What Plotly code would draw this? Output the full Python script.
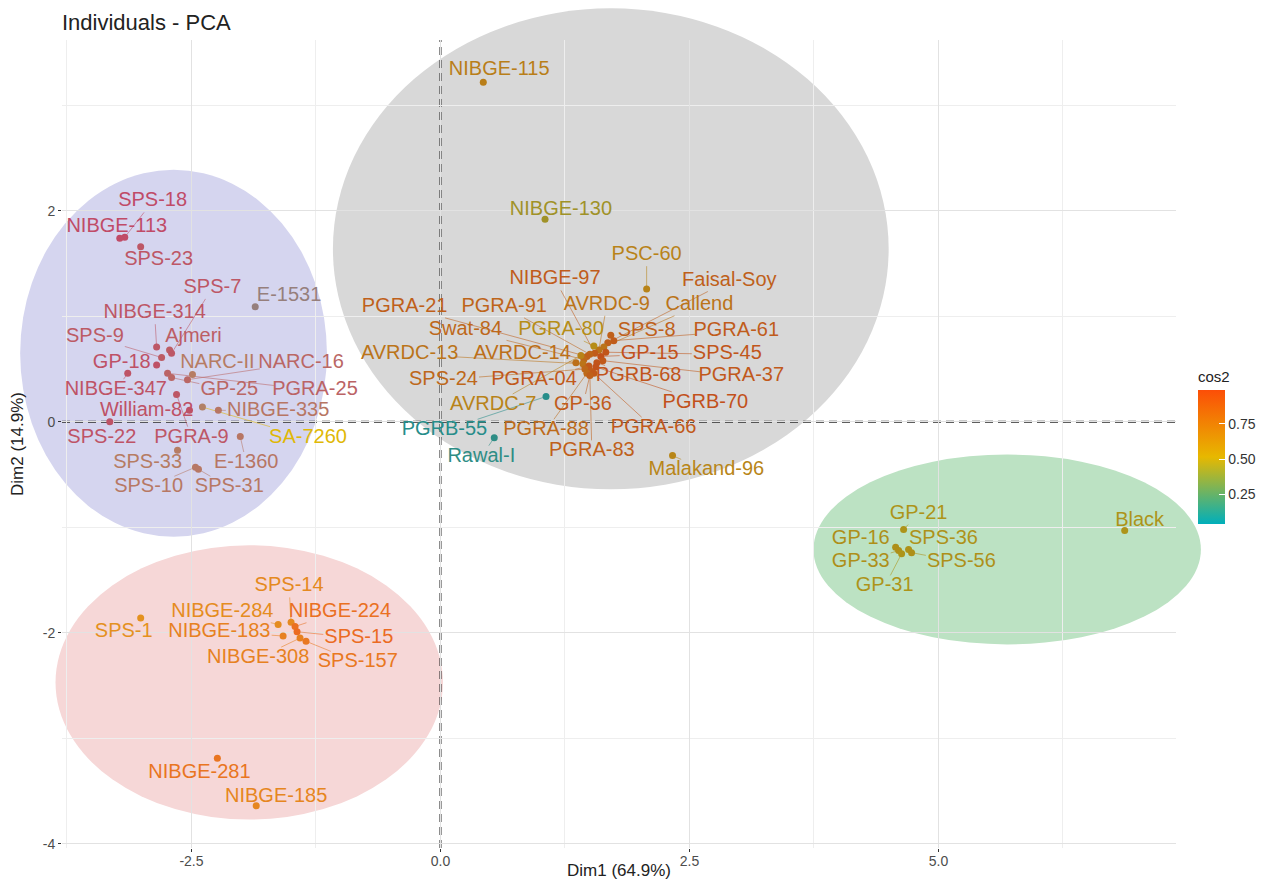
import math
import plotly.graph_objects as go

# ------------------------------------------------------------------ data
left_names = ["SPS-18", "NIBGE-113", "SPS-23", "E-1531", "NIBGE-314", "Ajmeri", "SPS-7", "SPS-9",
              "GP-18", "NIBGE-347", "PGRA-25", "GP-25", "NARC-16", "NARC-II", "PGRA-9", "William-82",
              "SA-7260", "NIBGE-335", "SPS-22", "E-1360", "SPS-33", "SPS-10", "SPS-31"]
left_dim1 = [-3.17, -3.22, -3.01, -1.86, -2.85, -2.72, -2.70, -2.80, -2.85, -3.14, -2.74, -2.70,
             -2.54, -2.49, -2.65, -2.52, -2.39, -2.23, -3.32, -2.01, -2.64, -2.46, -2.43]
left_dim2 = [1.75, 1.74, 1.66, 1.09, 0.71, 0.68, 0.65, 0.61, 0.54, 0.46, 0.46, 0.42,
             0.40, 0.45, 0.26, 0.11, 0.14, 0.11, 0.00, -0.14, -0.27, -0.43, -0.45]
left_cos2 = [0.95, 0.95, 0.85, 0.40, 0.85, 0.80, 0.85, 0.82, 0.90, 0.88, 0.75, 0.72,
             0.72, 0.55, 0.85, 0.90, 0.50, 0.60, 0.88, 0.60, 0.55, 0.58, 0.58]

center_names = ["NIBGE-115", "NIBGE-130", "PSC-60", "Malakand-96", "PGRB-55", "Rawal-I",
                "SPS-8", "PGRA-61", "Faisal-Soy", "Callend", "AVRDC-9", "PGRA-80", "NIBGE-97",
                "SPS-45", "PGRA-91", "PGRA-21", "GP-15", "Swat-84", "AVRDC-7", "PGRA-37",
                "PGRB-68", "AVRDC-13", "AVRDC-14", "PGRB-70", "PGRA-04", "SPS-24", "GP-36",
                "PGRA-88", "PGRA-66", "PGRA-83"]
center_dim1 = [0.43, 1.05, 2.07, 2.33, 1.06, 0.54,
               1.71, 1.74, 1.68, 1.64, 1.59, 1.54, 1.55,
               1.66, 1.50, 1.47, 1.61, 1.44, 1.41, 1.63,
               1.57, 1.43, 1.36, 1.56, 1.49, 1.45, 1.51,
               1.47, 1.54, 1.50]
center_dim2 = [3.22, 1.92, 1.26, -0.32, 0.24, -0.15,
               0.82, 0.77, 0.75, 0.71, 0.68, 0.72, 0.65,
               0.66, 0.64, 0.62, 0.62, 0.59, 0.63, 0.58,
               0.56, 0.55, 0.56, 0.52, 0.53, 0.50, 0.48,
               0.46, 0.46, 0.44]
center_cos2 = [0.65, 0.45, 0.62, 0.60, 0.08, 0.10,
               0.85, 0.88, 0.85, 0.72, 0.72, 0.55, 0.88,
               0.92, 0.82, 0.85, 0.95, 0.80, 0.62, 0.90,
               0.93, 0.72, 0.75, 0.95, 0.90, 0.80, 0.88,
               0.78, 0.90, 0.85]

pink_names = ["SPS-1", "SPS-14", "NIBGE-284", "NIBGE-224", "NIBGE-183", "SPS-15", "NIBGE-308",
              "SPS-157", "NIBGE-281", "NIBGE-185"]
pink_dim1 = [-3.01, -1.50, -1.63, -1.46, -1.58, -1.44, -1.41, -1.35, -2.24, -1.85]
pink_dim2 = [-1.86, -1.90, -1.92, -1.94, -2.03, -1.99, -2.05, -2.08, -3.19, -3.64]
pink_cos2 = [0.65, 0.70, 0.68, 0.85, 0.75, 0.88, 0.75, 0.80, 0.82, 0.72]

green_names = ["GP-21", "GP-16", "SPS-36", "GP-33", "SPS-56", "GP-31", "Black"]
green_dim1 = [4.65, 4.57, 4.70, 4.60, 4.73, 4.63, 6.87]
green_dim2 = [-1.02, -1.19, -1.21, -1.22, -1.24, -1.25, -1.03]
green_cos2 = [0.62, 0.66, 0.64, 0.66, 0.65, 0.62, 0.62]

x_ticks = [-2.5, 0.0, 2.5, 5.0]
y_ticks = [-4, -2, 0, 2]
cbar_ticks = [0.25, 0.50, 0.75]

# ------------------------------------------------------------------ layout helpers
PAGE_PAD = 8                       # default <body> margin of the html page
W, H = 1282 - 2 * PAGE_PAD, 888 - 2 * PAGE_PAD
ML, MT = 62 - PAGE_PAD, 40 - PAGE_PAD
PW, PH = 1116, 808
MR, MB = W - ML - PW, H - MT - PH
XR = [-3.80, 7.385]
YR = [-4.04, 3.62]
PXX = PW / (XR[1] - XR[0])
PXY = PH / (YR[1] - YR[0])
FS = 20
FONT = "Liberation Sans, Arial, sans-serif"
CMIN, CMAX = 0.04, 0.99
SCALE = [(0.0, (0, 175, 187)), (0.5, (231, 184, 0)), (1.0, (252, 78, 7))]

# repelled label positions (data units)
label_pos = {
    "SPS-18": (-2.89, 2.09), "NIBGE-113": (-3.25, 1.85), "SPS-23": (-2.83, 1.53),
    "SPS-7": (-2.29, 1.27), "E-1531": (-1.52, 1.19), "NIBGE-314": (-2.87, 1.03),
    "SPS-9": (-3.47, 0.80), "Ajmeri": (-2.48, 0.80), "GP-18": (-3.20, 0.56),
    "NARC-II": (-2.24, 0.56), "NARC-16": (-1.40, 0.56), "NIBGE-347": (-3.26, 0.30),
    "GP-25": (-2.12, 0.30), "PGRA-25": (-1.26, 0.30), "William-82": (-2.95, 0.10),
    "NIBGE-335": (-1.63, 0.10), "SPS-22": (-3.40, -0.15), "PGRA-9": (-2.50, -0.15),
    "SA-7260": (-1.33, -0.15), "SPS-33": (-2.94, -0.39), "E-1360": (-1.95, -0.39),
    "SPS-10": (-2.93, -0.62), "SPS-31": (-2.12, -0.62),
    "NIBGE-115": (0.59, 3.34), "NIBGE-130": (1.21, 2.01), "PSC-60": (2.07, 1.58),
    "Malakand-96": (2.67, -0.46), "PGRB-55": (0.04, -0.08), "Rawal-I": (0.41, -0.33),
    "NIBGE-97": (1.15, 1.35), "PGRA-21": (-0.36, 1.09), "PGRA-91": (0.64, 1.09),
    "AVRDC-9": (1.67, 1.11), "Callend": (2.60, 1.11), "Faisal-Soy": (2.90, 1.34),
    "Swat-84": (0.25, 0.87), "PGRA-80": (1.21, 0.87), "SPS-8": (2.07, 0.86),
    "PGRA-61": (2.97, 0.86), "AVRDC-13": (-0.31, 0.64), "AVRDC-14": (0.82, 0.64),
    "GP-15": (2.10, 0.64), "SPS-45": (2.88, 0.64), "SPS-24": (0.03, 0.40),
    "PGRA-04": (0.94, 0.40), "PGRB-68": (1.99, 0.43), "PGRA-37": (3.02, 0.43),
    "AVRDC-7": (0.53, 0.16), "GP-36": (1.43, 0.16), "PGRB-70": (2.66, 0.18),
    "PGRA-88": (1.06, -0.08), "PGRA-66": (2.14, -0.06), "PGRA-83": (1.52, -0.28),
    "SPS-1": (-3.18, -1.99), "SPS-14": (-1.52, -1.56), "NIBGE-284": (-2.19, -1.80),
    "NIBGE-224": (-1.01, -1.80), "NIBGE-183": (-2.22, -1.99), "SPS-15": (-0.82, -2.05),
    "NIBGE-308": (-1.83, -2.24), "SPS-157": (-0.83, -2.28), "NIBGE-281": (-2.42, -3.33),
    "NIBGE-185": (-1.65, -3.56),
    "GP-21": (4.80, -0.87), "GP-16": (4.22, -1.11), "SPS-36": (5.05, -1.11),
    "GP-33": (4.22, -1.33), "SPS-56": (5.23, -1.33), "GP-31": (4.46, -1.56),
    "Black": (7.02, -0.94),
}

# cluster ellipses (centre, radii in data units), fill, and the tint they give marks
ellipses = {
    "left":   dict(c=(-2.68, 0.65), r=(1.54, 1.74), fill="#D5D5EF", tint=(120, 60, 220), a=0.45),
    "center": dict(c=(1.71, 1.64), r=(2.79, 2.28), fill="#D8D8D8", tint=(80, 70, 70), a=0.33),
    "pink":   dict(c=(-1.92, -2.47), r=(1.945, 1.30), fill="#F6D7D7", tint=(200, 120, 120), a=0.25),
    "green":  dict(c=(5.69, -1.21), r=(1.945, 0.90), fill="#BCE2C3", tint=(80, 130, 60), a=0.4),
}


def scale_rgb(v):
    t = min(1.0, max(0.0, (v - CMIN) / (CMAX - CMIN)))
    for (t0, c0), (t1, c1) in zip(SCALE[:-1], SCALE[1:]):
        if t <= t1:
            s = (t - t0) / (t1 - t0)
            return tuple(c0[i] + s * (c1[i] - c0[i]) for i in range(3))
    return SCALE[-1][1]


def inside(x, y, e, lim=1.0):
    (cx, cy), (rx, ry) = e["c"], e["r"]
    return ((x - cx) / rx) ** 2 + ((y - cy) / ry) ** 2 <= lim


def tinted(rgb, x, y, lim=1.0):
    for e in ellipses.values():
        if inside(x, y, e, lim):
            a, c = e["a"], e["tint"]
            rgb = tuple(a * c[i] + (1 - a) * rgb[i] for i in range(3))
            break
    return "rgb(%d,%d,%d)" % tuple(int(round(v)) for v in rgb)


names = left_names + center_names + pink_names + green_names
dim1 = left_dim1 + center_dim1 + pink_dim1 + green_dim1
dim2 = left_dim2 + center_dim2 + pink_dim2 + green_dim2
cos2 = left_cos2 + center_cos2 + pink_cos2 + green_cos2

base = [scale_rgb(v) for v in cos2]
pt_col = [tinted(b, x, y) for b, x, y in zip(base, dim1, dim2)]
lab_x = [label_pos[n][0] for n in names]
lab_y = [label_pos[n][1] for n in names]
lab_col = [tinted(b, x, y, 0.975) for b, x, y in zip(base, lab_x, lab_y)]

fig = go.Figure()

# colour bar carrier (invisible)
fig.add_trace(go.Scatter(
    x=dim1, y=dim2, mode="markers", hoverinfo="skip", showlegend=False,
    marker=dict(color=cos2, colorscale=[[s, "rgb(%d,%d,%d)" % c] for s, c in SCALE],
                cmin=CMIN, cmax=CMAX, opacity=0, size=1, showscale=True,
                colorbar=dict(title=dict(text="cos2", side="top", font=dict(size=15, color="#222", family=FONT)),
                              thickness=27, len=156, lenmode="pixels", xpad=0, ypad=0,
                              x=(1200 - PAGE_PAD - ML) / PW, xanchor="left",
                              y=(MT + PH - (368 - PAGE_PAD)) / PH, yanchor="top",
                              tickvals=cbar_ticks, ticktext=["%.2f" % v for v in cbar_ticks],
                              ticks="inside", ticklen=6, tickcolor="white", outlinewidth=0,
                              tickfont=dict(size=14, color="#333", family=FONT)))))

# repel segments
for n, x, y, lx, ly, col in zip(names, dim1, dim2, lab_x, lab_y, lab_col):
    dxp, dyp = (x - lx) * PXX, (y - ly) * PXY
    hw = 0.56 * FS * len(n) / 2 + 2
    hh = FS * 0.55
    if abs(dxp) <= hw and abs(dyp) <= hh:
        continue
    t = min(hw / abs(dxp) if dxp else 1e9, hh / abs(dyp) if dyp else 1e9)
    ex, ey = lx + t * (x - lx), ly + t * (y - ly)
    if math.hypot((x - ex) * PXX, (y - ey) * PXY) < 6:
        continue
    fig.add_trace(go.Scatter(x=[x, ex], y=[y, ey], mode="lines", hoverinfo="skip", showlegend=False,
                             line=dict(color=col, width=0.8), opacity=0.7, cliponaxis=False))

fig.add_trace(go.Scatter(x=dim1, y=dim2, mode="markers", showlegend=False, text=names,
                         marker=dict(color=pt_col, size=7, line=dict(width=0))))
fig.add_trace(go.Scatter(x=lab_x, y=lab_y, mode="text", text=names, showlegend=False, hoverinfo="skip",
                         textposition="middle center", cliponaxis=False,
                         textfont=dict(size=FS, color=lab_col, family=FONT)))

shapes = []
for e in ellipses.values():
    (cx, cy), (rx, ry) = e["c"], e["r"]
    shapes.append(dict(type="circle", xref="paper", yref="paper", layer="below",
                       x0=(cx - rx - XR[0]) / (XR[1] - XR[0]), x1=(cx + rx - XR[0]) / (XR[1] - XR[0]),
                       y0=(cy - ry - YR[0]) / (YR[1] - YR[0]), y1=(cy + ry - YR[0]) / (YR[1] - YR[0]),
                       fillcolor=e["fill"], line=dict(width=0)))
shapes.append(dict(type="line", xref="x", yref="paper", x0=0, x1=0, y0=0, y1=1, layer="between",
                   line=dict(color="#2a2a2a", width=2, dash="8px,5px")))
shapes.append(dict(type="line", xref="paper", yref="y", x0=0, x1=1, y0=0, y1=0, layer="between",
                   line=dict(color="#2a2a2a", width=2, dash="8px,5px")))

axis_common = dict(showline=False, zeroline=False, ticks="outside", ticklen=3, tickcolor="#333",
                   tickfont=dict(size=14, color="#4D4D4D", family=FONT), gridcolor="#E2E2E2",
                   gridwidth=1, automargin=False)
fig.update_layout(
    width=W, height=H, margin=dict(l=ML, r=MR, t=MT, b=MB),
    paper_bgcolor="white", plot_bgcolor="rgba(0,0,0,0)",
    font=dict(family=FONT, color="#222"),
    title=dict(text="Individuals - PCA", x=ML / W, xanchor="left", y=1 - (22 - PAGE_PAD) / H,
               yanchor="middle", font=dict(size=22, color="#222", family=FONT)),
    shapes=shapes,
    xaxis=dict(range=XR, tickvals=x_ticks, ticktext=["%.1f" % v for v in x_ticks], ticklabelstandoff=-3,
               minor=dict(tickvals=[-3.75, -1.25, 1.25, 3.75, 6.25], showgrid=True, gridcolor="#EEEEEE", ticks=""),
               title=dict(text="Dim1 (64.9%)", standoff=8, font=dict(size=17, color="#222")), **axis_common),
    yaxis=dict(range=YR, tickvals=y_ticks, ticktext=[str(v) for v in y_ticks],
               minor=dict(tickvals=[-3, -1, 1, 3], showgrid=True, gridcolor="#EEEEEE", ticks=""),
               title=dict(text="Dim2 (14.9%)", standoff=20, font=dict(size=17, color="#222")), **axis_common),
)

fig.write_html("out.html")
